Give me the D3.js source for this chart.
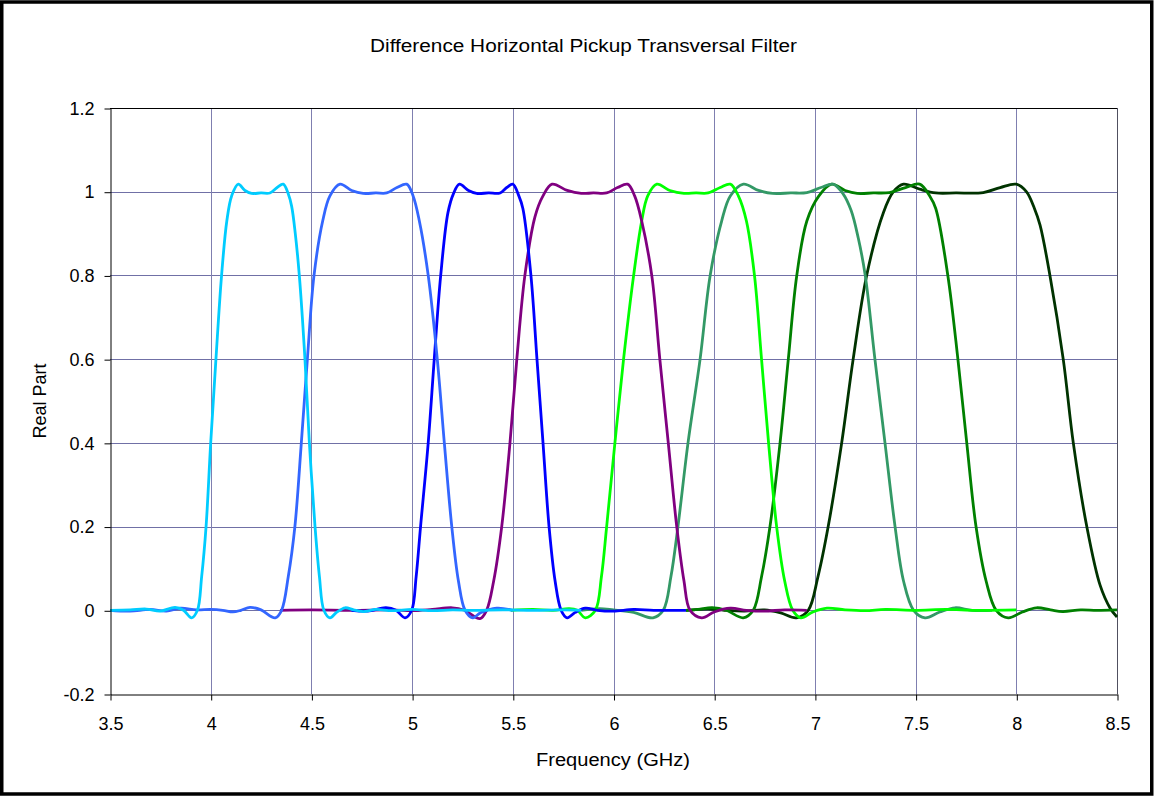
<!DOCTYPE html>
<html>
<head>
<meta charset="utf-8">
<script src="https://cdn.jsdelivr.net/npm/d3@7"></script>
<style>
  body { margin: 0; background: #fff; }
  svg text { font-family: "Liberation Sans", Arial, sans-serif; fill: #000; }
</style>
</head>
<body>
<div id="chart"></div>
<script>
// frequency (GHz), real part
const cyanBand = [[3.5,0],[3.6,0.001],[3.68,0.003],[3.75,-0.002],[3.823,0.007],[3.865,0],[3.905,-0.018],[3.934,0],[3.955,0.08],[3.977,0.2],[4.0,0.4],[4.026,0.6],[4.054,0.8],[4.08,0.93],[4.104,0.99],[4.137,1.018],[4.17,1.003],[4.203,0.996],[4.25,0.997],[4.294,0.997],[4.33,1.01],[4.36,1.018],[4.385,0.995],[4.402,0.965],[4.42,0.9],[4.44,0.8],[4.468,0.6],[4.49,0.4],[4.518,0.2],[4.54,0.08],[4.562,0],[4.592,-0.018],[4.625,-0.005],[4.667,0.006],[4.71,0.001],[4.757,-0.003],[4.82,0.002],[4.9,-0.001],[5.0,0.002],[5.1,-0.001],[5.2,0.001],[5.3,0],[5.45,0.001],[5.6,0],[5.75,0.001],[5.84,0]];
const blueBand = [[3.5,0],[3.6,-0.002],[3.7,0.002],[3.78,-0.002],[3.85,0.005],[3.93,0.001],[4.0,0.002],[4.06,0],[4.11,-0.004],[4.15,0],[4.195,0.007],[4.25,0.001],[4.32,-0.018],[4.352,0],[4.385,0.08],[4.418,0.2],[4.45,0.4],[4.48,0.6],[4.513,0.8],[4.556,0.93],[4.592,0.99],[4.642,1.018],[4.7,1.003],[4.757,0.996],[4.82,0.997],[4.874,0.997],[4.925,1.01],[4.973,1.018],[5.005,0.99],[5.036,0.93],[5.08,0.8],[5.125,0.6],[5.16,0.4],[5.197,0.2],[5.23,0.07],[5.263,0],[5.3,-0.018],[5.34,-0.006],[5.42,0.005],[5.5,0]];
const royalBand = [[4.7,0],[4.78,-0.002],[4.87,0.006],[4.92,0],[4.965,-0.018],[4.998,0],[5.02,0.08],[5.042,0.2],[5.08,0.4],[5.11,0.6],[5.142,0.8],[5.178,0.95],[5.205,0.995],[5.235,1.018],[5.28,1.003],[5.32,0.996],[5.38,0.997],[5.437,0.997],[5.47,1.01],[5.5,1.018],[5.53,0.99],[5.55,0.96],[5.59,0.8],[5.62,0.6],[5.65,0.4],[5.68,0.2],[5.71,0.07],[5.74,0],[5.77,-0.018],[5.81,-0.005],[5.86,0.005],[5.92,0],[6.0,-0.002],[6.1,0.002],[6.2,0],[6.36,0]];
const purpleBand = [[4.344,0],[4.5,0.001],[4.7,0],[4.9,0.001],[5.0,-0.001],[5.1,0.002],[5.2,0.006],[5.26,0],[5.337,-0.02],[5.37,0],[5.405,0.07],[5.445,0.2],[5.486,0.4],[5.52,0.6],[5.56,0.8],[5.61,0.94],[5.65,0.99],[5.695,1.018],[5.77,1.003],[5.84,0.996],[5.9,0.997],[5.966,0.997],[6.02,1.01],[6.07,1.018],[6.105,0.99],[6.14,0.93],[6.19,0.8],[6.23,0.6],[6.272,0.4],[6.314,0.2],[6.35,0.07],[6.38,0],[6.438,-0.018],[6.5,-0.004],[6.58,0.005],[6.66,0],[6.75,-0.002],[6.85,0.001],[6.96,0]];
const limeBand = [[5.49,0],[5.6,0.002],[5.7,0],[5.78,0.004],[5.82,0],[5.86,-0.018],[5.91,0],[5.94,0.08],[5.966,0.2],[6.007,0.4],[6.05,0.6],[6.1,0.8],[6.14,0.93],[6.17,0.99],[6.215,1.018],[6.28,1.003],[6.35,0.996],[6.41,0.997],[6.47,0.997],[6.53,1.01],[6.58,1.018],[6.62,0.99],[6.66,0.93],[6.7,0.8],[6.735,0.6],[6.77,0.4],[6.81,0.2],[6.85,0.07],[6.89,0],[6.93,-0.018],[6.99,-0.004],[7.06,0.005],[7.15,0.001],[7.25,-0.001],[7.35,0.002],[7.5,0],[7.65,0.002],[7.8,0],[8.0,0.001]];
const seaBand = [[5.84,0],[5.93,0.004],[6.0,0.001],[6.1,-0.005],[6.196,-0.018],[6.247,0],[6.285,0.08],[6.32,0.2],[6.37,0.4],[6.43,0.6],[6.48,0.8],[6.537,0.93],[6.58,0.99],[6.645,1.018],[6.72,1.003],[6.79,0.996],[6.88,0.997],[6.96,0.998],[7.03,1.01],[7.09,1.018],[7.14,0.995],[7.18,0.955],[7.215,0.89],[7.25,0.8],[7.298,0.6],[7.348,0.4],[7.398,0.2],[7.44,0.07],[7.49,0],[7.547,-0.018],[7.62,-0.004],[7.696,0.006],[7.78,0],[7.88,0]];
const greenBand = [[6.36,0],[6.42,0.002],[6.49,0.006],[6.56,0],[6.644,-0.018],[6.694,0],[6.735,0.08],[6.777,0.2],[6.827,0.4],[6.868,0.6],[6.91,0.8],[6.96,0.93],[7.02,0.99],[7.083,1.018],[7.15,1.003],[7.21,0.996],[7.29,0.997],[7.37,0.998],[7.45,1.01],[7.52,1.018],[7.57,0.99],[7.6,0.96],[7.66,0.8],[7.71,0.6],[7.754,0.4],[7.8,0.2],[7.85,0.07],[7.9,0],[7.96,-0.018],[8.03,-0.004],[8.1,0.006],[8.17,0.001],[8.23,-0.003],[8.32,0.001],[8.4,0],[8.5,0.001]];
const darkBand = [[6.36,0],[6.47,0.003],[6.55,0],[6.65,-0.002],[6.75,0.001],[6.83,-0.006],[6.908,-0.018],[6.967,0],[7.015,0.08],[7.066,0.2],[7.133,0.4],[7.19,0.6],[7.257,0.8],[7.34,0.95],[7.39,1.0],[7.44,1.018],[7.52,1.006],[7.6,0.997],[7.7,0.997],[7.836,0.998],[7.92,1.01],[8.0,1.018],[8.05,1.0],[8.09,0.96],[8.118,0.92],[8.167,0.8],[8.233,0.6],[8.283,0.4],[8.35,0.2],[8.416,0.06],[8.466,0.005],[8.5,-0.016]];

const bands = [cyanBand, blueBand, royalBand, purpleBand, limeBand, seaBand, greenBand, darkBand];
const bandColors = ["#00ccff", "#3366ff", "#0000ff", "#800080", "#00ff00", "#339966", "#008000", "#003300"];

const xTicks = [3.5, 4, 4.5, 5, 5.5, 6, 6.5, 7, 7.5, 8, 8.5];
const yTicks = [-0.2, 0, 0.2, 0.4, 0.6, 0.8, 1, 1.2];
const yTickLabels = ["-0.2", "0", "0.2", "0.4", "0.6", "0.8", "1", "1.2"];

const width = 1154, height = 796;
const plotL = 110, plotR = 1117, plotT = 108, plotB = 694;

const svg = d3.select("#chart").append("svg")
  .attr("width", width)
  .attr("height", height);

svg.append("rect")
  .attr("x", 1.75).attr("y", 2)
  .attr("width", width - 4).attr("height", height - 4)
  .attr("fill", "#fff")
  .attr("stroke", "#000")
  .attr("stroke-width", 3.5);

var x = d3.scaleLinear().domain([3.5, 8.5]).range([plotL, plotR]);
var y = d3.scaleLinear().domain([-0.2, 1.2]).range([plotB, plotT]);
const crisp = v => Math.round(v) + 0.5;

// grid
var grid = svg.append("g");
grid.selectAll(".h").data(yTicks.slice(1, -1)).enter().append("line")
  .attr("x1", plotL).attr("x2", plotR)
  .attr("y1", d => crisp(y(d))).attr("y2", d => crisp(y(d)))
  .attr("stroke", "#7070a6");
grid.selectAll(".v").data(xTicks.slice(1)).enter().append("line")
  .attr("x1", d => crisp(x(d))).attr("x2", d => crisp(x(d)))
  .attr("y1", plotT).attr("y2", plotB)
  .attr("stroke", "#7f7fb0");

// plot frame top and right
svg.append("line")
  .attr("x1", plotL).attr("x2", plotR)
  .attr("y1", crisp(y(1.2))).attr("y2", crisp(y(1.2)))
  .attr("stroke", "#000");
svg.append("line")
  .attr("x1", crisp(x(8.5))).attr("x2", crisp(x(8.5)))
  .attr("y1", plotT).attr("y2", plotB)
  .attr("stroke", "#505060");

// curves, last band first so the cyan one ends on top
var line = d3.line()
  .x(d => x(d[0]))
  .y(d => y(d[1]))
  .curve(d3.curveCatmullRom.alpha(0.5));

svg.append("g").selectAll("path")
  .data(bands.map((b, i) => ({ pts: b, color: bandColors[i] })).reverse())
  .enter().append("path")
  .attr("d", d => line(d.pts))
  .attr("fill", "none")
  .attr("stroke", d => d.color)
  .attr("stroke-width", 2.8)
  .attr("stroke-linejoin", "round");

// axes
svg.append("g")
  .attr("transform", "translate(" + crisp(plotL) + ",0.5)")
  .call(d3.axisLeft(y).tickValues(yTicks).tickSize(6).tickSizeOuter(0).tickPadding(10)
    .tickFormat((d, i) => yTickLabels[i]));
svg.append("g")
  .attr("transform", "translate(0.5," + crisp(plotB) + ")")
  .call(d3.axisBottom(x).tickValues(xTicks).tickSize(6).tickSizeOuter(0).tickPadding(17)
    .tickFormat(d => String(d)));

svg.selectAll(".domain, .tick line").attr("stroke", "#000");
svg.selectAll(".tick text").style("font-size", "18px").attr("font-family", null);

// titles (the reference text is drawn a little wider than plain Arial)
svg.append("text")
  .attr("x", 583.5).attr("y", 52)
  .attr("text-anchor", "middle")
  .attr("textLength", 427)
  .attr("lengthAdjust", "spacingAndGlyphs")
  .style("font-size", "18px")
  .text("Difference Horizontal Pickup Transversal Filter");

svg.append("text")
  .attr("transform", "translate(46," + (plotT + plotB) / 2 + ") rotate(-90)")
  .attr("text-anchor", "middle")
  .style("font-size", "18px")
  .text("Real Part");

svg.append("text")
  .attr("x", 613).attr("y", 766)
  .attr("text-anchor", "middle")
  .attr("textLength", 154)
  .attr("lengthAdjust", "spacingAndGlyphs")
  .style("font-size", "18px")
  .text("Frequency (GHz)");
</script>
</body>
</html>
